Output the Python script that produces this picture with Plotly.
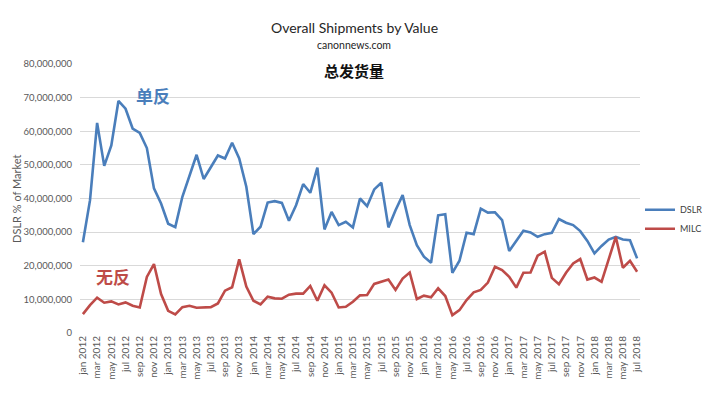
import plotly.graph_objects as go

months = ["jan", "feb", "mar", "apr", "may", "jun", "jul", "aug", "sep", "oct", "nov", "dec"]
categories = [f"{months[i % 12]} {2012 + i // 12}" for i in range(79)]

dslr = [27.0, 39.5, 62.5, 49.7, 55.8, 69.0, 66.7, 60.8, 59.5, 55.0,
        43.0, 38.5, 32.5, 31.5, 40.5, 47.0, 53.0, 45.8, 49.5, 52.8,
        51.9, 56.6, 51.9, 43.5, 29.4, 31.6, 38.8, 39.2, 38.7, 33.4,
        38.0, 44.3, 41.7, 49.2, 30.8, 36.0, 32.1, 33.1, 31.4, 40.0,
        37.7, 42.7, 44.7, 31.4, 36.5, 41.0, 32.1, 26.1, 22.7, 20.9,
        35.0, 35.3, 17.9, 21.5, 29.8, 29.4, 37.0, 35.8, 35.9, 33.6,
        24.4, 27.6, 30.4, 29.9, 28.6, 29.4, 29.8, 33.9, 32.8, 32.1,
        30.3, 27.4, 23.7, 25.9, 27.8, 28.6, 27.8, 27.6, 22.2]
milc = [5.6, 8.3, 10.5, 9.0, 9.4, 8.5, 9.1, 8.1, 7.6, 16.7,
        20.5, 11.6, 6.6, 5.5, 7.7, 8.1, 7.5, 7.6, 7.7, 8.8,
        12.6, 13.6, 21.9, 13.8, 9.6, 8.5, 10.8, 10.3, 10.2, 11.4,
        11.7, 11.7, 14.0, 9.6, 14.2, 12.0, 7.6, 7.8, 9.3, 11.2,
        11.3, 14.6, 15.2, 15.9, 12.8, 16.2, 18.0, 10.1, 11.1, 10.6,
        13.3, 11.0, 5.3, 6.8, 9.8, 12.1, 12.8, 15.0, 19.7, 18.7,
        16.7, 13.5, 17.9, 18.0, 23.0, 24.2, 16.4, 14.5, 17.9, 20.7,
        22.0, 15.9, 16.5, 15.2, 21.9, 28.6, 19.4, 21.5, 18.2]

dslr_vals = [v * 1e6 for v in dslr]
milc_vals = [v * 1e6 for v in milc]
x = list(range(len(categories)))
tick_idx = x[::2]
tick_text = [categories[i] for i in tick_idx]

font_main = "Lato, 'Open Sans', sans-serif"
cjk = "'Noto Sans CJK SC', sans-serif"

fig = go.Figure()
fig.add_trace(go.Scatter(x=x, y=dslr_vals, name="DSLR", mode="lines",
                         line=dict(color="#4A7EBB", width=2.6)))
fig.add_trace(go.Scatter(x=x, y=milc_vals, name="MILC", mode="lines",
                         line=dict(color="#BE4B48", width=2.6)))

fig.update_layout(
    width=720, height=396,
    margin=dict(l=80, r=68, t=64, b=63),
    paper_bgcolor="white", plot_bgcolor="white",
    font=dict(family=font_main, color="#595959", size=10),
    showlegend=True,
    legend=dict(x=1.0, y=0.512, xanchor="left", yanchor="top",
                font=dict(size=9, color="#404040"), tracegroupgap=0,
                bgcolor="rgba(0,0,0,0)"),
    xaxis=dict(range=[-0.41, 78.41], tickmode="array", tickvals=tick_idx,
               ticktext=tick_text, tickangle=-90, showgrid=False,
               zeroline=False, showline=False, ticks="", automargin=False,
               tickfont=dict(size=10, color="#595959")),
    yaxis=dict(range=[0, 80e6], dtick=10e6, tickformat=",d",
               showgrid=True, gridcolor="#D9D9D9", gridwidth=1.2,
               zeroline=False, showline=False, ticks="", automargin=False,
               ticklabelstandoff=7,
               tickfont=dict(size=9.5, color="#595959")),
)

fig.add_annotation(text="DSLR % of Market", xref="paper", yref="paper",
                   x=-0.1136, y=0.5, xanchor="center", yanchor="middle", textangle=-90,
                   showarrow=False, font=dict(size=11, color="#595959", family=font_main))
fig.add_annotation(text="Overall Shipments by Value", xref="paper", yref="paper",
                   x=0.4895, y=1, yshift=37, xanchor="center", yanchor="middle",
                   showarrow=False, font=dict(size=14, color="#262626", family=font_main))
fig.add_annotation(text="canonnews.com", xref="paper", yref="paper",
                   x=0.4895, y=1, yshift=19, xanchor="center", yanchor="middle",
                   showarrow=False, font=dict(size=10.5, color="#262626", family=font_main))
fig.add_annotation(text="<b>总发货量</b>", xref="paper", yref="paper",
                   x=0.4895, y=1, yshift=-6, xanchor="center", yanchor="middle",
                   showarrow=False, font=dict(size=15, color="#111111", family=cjk))
fig.add_annotation(text="<b>单反</b>", xref="x", yref="y",
                   x=9.8, y=70.5e6, xanchor="center", yanchor="middle",
                   showarrow=False, font=dict(size=17, color="#4A7EBB", family=cjk))
fig.add_annotation(text="<b>无反</b>", xref="x", yref="y",
                   x=4.2, y=16.8e6, xanchor="center", yanchor="middle",
                   showarrow=False, font=dict(size=17, color="#BE4B48", family=cjk))

fig.write_html("out.html", config={"displayModeBar": False},
               post_script="document.body.style.margin='0';document.body.style.overflow='hidden';")
